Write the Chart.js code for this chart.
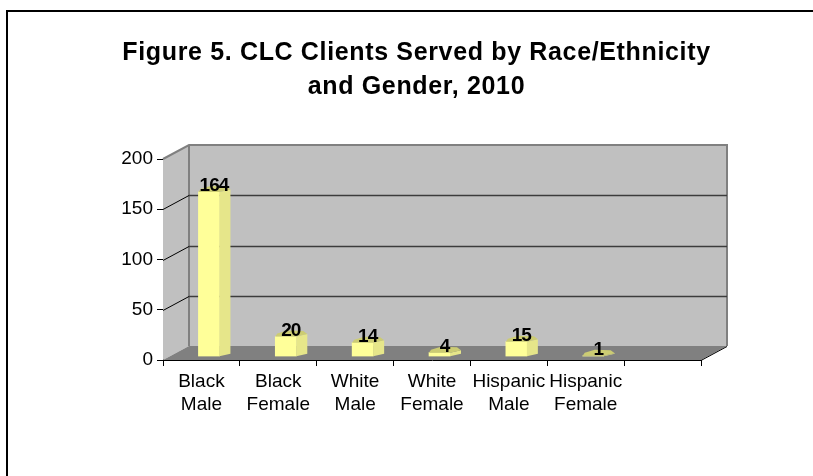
<!DOCTYPE html>
<html>
<head>
<meta charset="utf-8">
<script src="https://cdn.jsdelivr.net/npm/chart.js@4"></script>
<style>
html, body { margin: 0; padding: 0; background: #fff; overflow: hidden; }
#box { position: absolute; left: 6px; top: 10px; width: 807px; height: 466px; border-left: 2px solid #000; border-top: 2px solid #000; box-sizing: border-box; }
canvas { position: absolute; left: 0; top: 0; }
</style>
</head>
<body>
<canvas id="barChart" width="813" height="476"></canvas>
<script>
// chart data
const categories = [["Black", "Male"], ["Black", "Female"], ["White", "Male"], ["White", "Female"], ["Hispanic", "Male"], ["Hispanic", "Female"], ""];
const clients = [164, 20, 14, 4, 15, 1, null];
const yTicks = [0, 50, 100, 150, 200];
const titleLines = ["Figure 5. CLC Clients Served by Race/Ethnicity", "and Gender, 2010"];

// depth of the fake 3d box
const depthX = 26;
const depthY = -14;
// bar front sits part way into the floor
const barShiftX = 7.5;
const barShiftY = -3.3;

function poly(ctx, pts, fill) {
    ctx.beginPath();
    ctx.moveTo(pts[0][0], pts[0][1]);
    for (let i = 1; i < pts.length; i++) ctx.lineTo(pts[i][0], pts[i][1]);
    ctx.closePath();
    ctx.fillStyle = fill;
    ctx.fill();
}

// walls, floor and gridlines behind the bars
const boxPlugin = {
    id: "box3d",
    afterLayout(chart) {
        // title is centred on the whole frame, not on the plot
        chart.titleBlock.left = 20;
        chart.titleBlock.right = chart.width;
    },
    beforeDraw(chart) {
        // title is wider in the original, the title box picks this up
        chart.ctx.letterSpacing = "0.65px";
    },
    beforeDatasetsDraw(chart) {
        const ctx = chart.ctx;
        ctx.letterSpacing = "0px";
        const a = chart.chartArea;
        const y = chart.scales.y;
        const bx = a.left + depthX, by = a.top + depthY;
        const fy = a.bottom + depthY;
        ctx.save();
        poly(ctx, [[a.left, a.top], [bx, by], [bx, fy], [a.left, a.bottom]], "#c0c0c0");
        poly(ctx, [[bx, by], [a.right + depthX, by], [a.right + depthX, fy], [bx, fy]], "#c0c0c0");
        poly(ctx, [[a.left, a.bottom], [bx, fy], [a.right + depthX, fy], [a.right, a.bottom]], "#808080");
        // wall outline
        ctx.strokeStyle = "#808080";
        ctx.lineWidth = 2;
        ctx.beginPath();
        ctx.moveTo(a.left, a.top);
        ctx.lineTo(bx, by);
        ctx.lineTo(a.right + depthX, by);
        ctx.lineTo(a.right + depthX, fy);
        ctx.moveTo(bx, by);
        ctx.lineTo(bx, fy);
        ctx.stroke();
        // gridlines
        yTicks.forEach(v => {
            const py = Math.round(y.getPixelForValue(v)) + 0.5;
            ctx.beginPath();
            if (v > 0 && v < 200) {
                ctx.strokeStyle = "#000";
                ctx.lineWidth = 1;
                ctx.moveTo(a.left, py);
                ctx.lineTo(bx, py + depthY);
                ctx.stroke();
                ctx.beginPath();
                ctx.strokeStyle = "#3c3c3c";
                ctx.lineWidth = 1.5;
                ctx.moveTo(bx, py + depthY);
                ctx.lineTo(a.right + depthX, py + depthY);
            } else if (v === 0) {
                ctx.strokeStyle = "#000";
                ctx.lineWidth = 1;
                ctx.moveTo(a.right, py);
                ctx.lineTo(a.right + depthX, py + depthY);
            }
            ctx.stroke();
        });
        ctx.restore();
    },
    beforeDatasetDraw(chart) {
        chart.ctx.save();
        chart.ctx.translate(barShiftX, barShiftY);
    },
    afterDatasetDraw(chart) {
        const ctx = chart.ctx;
        // side and cap of each bar, then the value on top
        chart.getDatasetMeta(0).data.forEach((bar, i) => {
            if (clients[i] == null) return;
            const l = bar.x - bar.width / 2, r = bar.x + bar.width / 2;
            const t = bar.y, b = bar.base;
            poly(ctx, [[r, t], [r + 11, t - 2.5], [r + 11, b - 2.5], [r, b]], "#e6e68a");
            poly(ctx, [[l, t], [r, t], [r + 11, t - 2.5], [r + 7, t - 5.5], [l + 12, t - 6], [l + 2, t - 3]], "#cccc73");
        });
        ctx.restore();
        ctx.save();
        ctx.fillStyle = "#000";
        ctx.font = "bold 19px 'Liberation Sans'";
        ctx.letterSpacing = "-1px";
        ctx.textAlign = "center";
        ctx.textBaseline = "middle";
        chart.getDatasetMeta(0).data.forEach((bar, i) => {
            if (clients[i] == null) return;
            ctx.fillText(String(clients[i]), bar.x + barShiftX + 5, bar.y + barShiftY - 6);
        });
        ctx.restore();
    }
};

const ctxB = document.getElementById("barChart").getContext("2d");

// two tone front of the bar
function barFill(context) {
    const bar = context.element;
    if (!bar || !bar.width) return "#ffff99";
    const l = bar.x - bar.width / 2;
    const g = context.chart.ctx.createLinearGradient(l, 0, l + bar.width, 0);
    g.addColorStop(0, "#ffff99");
    g.addColorStop(0.5, "#ffff99");
    g.addColorStop(0.5, "#f4f490");
    g.addColorStop(1, "#f4f490");
    return g;
}

const myBarChart = new Chart(ctxB, {
    type: "bar",
    data: {
        labels: categories,
        datasets: [{
            data: clients,
            backgroundColor: barFill,
            barThickness: 21
        }]
    },
    options: {
        responsive: false,
        animation: false,
        layout: { padding: { left: 0, right: 112, top: 28, bottom: 56 } },
        plugins: {
            legend: { display: false },
            tooltip: { enabled: false },
            title: {
                display: true,
                text: titleLines,
                color: "#000",
                font: { family: "'Liberation Sans'", size: 25, weight: "bold", lineHeight: 1.36 },
                padding: { top: 8, bottom: 55 }
            }
        },
        scales: {
            x: {
                grid: { offset: true, drawOnChartArea: false, color: "#000", tickLength: 6 },
                border: { color: "#000", width: 1 },
                ticks: { z: 1, color: "#000", font: { family: "'Liberation Sans'", size: 19, lineHeight: 1.21 }, maxRotation: 0, autoSkip: false, padding: 4 }
            },
            y: {
                min: 0,
                max: 200,
                afterFit(scale) { scale.width = 163; },
                afterBuildTicks(scale) { scale.ticks = yTicks.map(v => ({ value: v })); },
                grid: { drawOnChartArea: false, color: "#000", tickLength: 6 },
                border: { color: "#000", width: 1 },
                ticks: { z: 1, color: "#000", font: { family: "'Liberation Sans'", size: 19 }, padding: 4 }
            }
        }
    },
    plugins: [boxPlugin]
});
</script>
<div id="box"></div>
</body>
</html>
